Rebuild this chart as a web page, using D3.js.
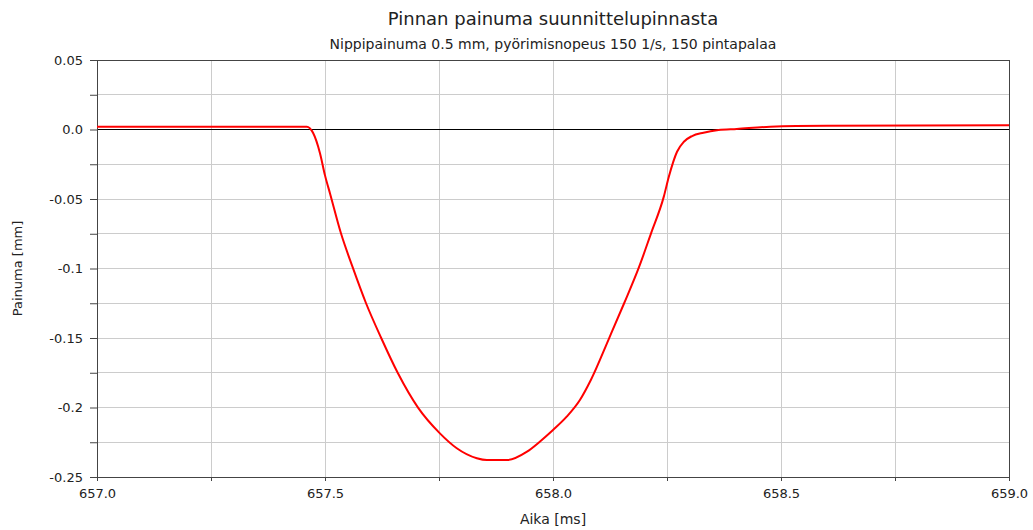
<!DOCTYPE html>
<html>
<head>
<meta charset="utf-8">
<script src="https://cdn.jsdelivr.net/npm/d3@7"></script>
<style>
  body { margin: 0; background: #fff; }
  text { font-family: "DejaVu Sans", sans-serif; fill: #222; }
</style>
</head>
<body>
<svg id="chart"></svg>
<script>
// data
const timeMs = [657.0, 657.46, 657.474, 657.489, 657.5, 657.511, 657.535, 657.561, 657.59, 657.623,
  657.66, 657.704, 657.752, 657.789, 657.833, 657.855, 657.899, 657.943, 657.971, 658.0,
  658.03, 658.059, 658.083, 658.123, 658.156, 658.189, 658.215, 658.243, 658.254, 658.272,
  658.287, 658.305, 658.33, 658.363, 658.403, 658.476, 658.6, 659.0];
const depthMm = [0.002, 0.002, -0.0025, -0.017, -0.033, -0.046, -0.0747, -0.0994, -0.125, -0.1498,
  -0.1754, -0.2001, -0.2186, -0.2293, -0.2365, -0.2378, -0.2378, -0.2318, -0.2246, -0.2162,
  -0.2066, -0.1946, -0.1802, -0.1502, -0.125, -0.0987, -0.0747, -0.0483, -0.034, -0.016,
  -0.0088, -0.0047, -0.0023, -0.0004, 0.0004, 0.002, 0.0027, 0.003];
const xTickLabels = ["657.0", "657.5", "658.0", "658.5", "659.0"];
const yTickLabels = ["0.05", "0.0", "-0.05", "-0.1", "-0.15", "-0.2", "-0.25"];
const yTickValues = [0.05, 0, -0.05, -0.1, -0.15, -0.2, -0.25];

const title = "Pinnan painuma suunnittelupinnasta";
const subtitle = "Nippipainuma 0.5 mm, pyörimisnopeus 150 1/s, 150 pintapalaa";

const width = 1033, height = 530;
const margin = { top: 60, right: 24, bottom: 53, left: 97 };

let svg = d3.select("#chart").attr("width", width).attr("height", height);

let x = d3.scaleLinear().domain([657, 659]).range([margin.left, width - margin.right]);
let y = d3.scaleLinear().domain([-0.25, 0.05]).range([height - margin.bottom, margin.top]);

let minorX = d3.range(0, 9).map(i => 657 + i * 0.25);
let minorY = d3.range(0, 13).map(i => -0.25 + i * 0.025);

// grid
svg.append("g").selectAll("line").data(minorX).enter().append("line")
  .attr("x1", d => x(d)).attr("x2", d => x(d))
  .attr("y1", y(0.05)).attr("y2", y(-0.25))
  .attr("stroke", "#cccccc").attr("stroke-width", 1).attr("shape-rendering", "crispEdges");
svg.append("g").selectAll("line").data(minorY).enter().append("line")
  .attr("x1", x(657)).attr("x2", x(659))
  .attr("y1", d => y(d)).attr("y2", d => y(d))
  .attr("stroke", "#cccccc").attr("stroke-width", 1).attr("shape-rendering", "crispEdges");

// zero line
svg.append("line")
  .attr("x1", x(657)).attr("x2", x(659))
  .attr("y1", y(0)).attr("y2", y(0))
  .attr("stroke", "#000").attr("shape-rendering", "crispEdges");

// frame
svg.append("rect")
  .attr("x", x(657)).attr("y", y(0.05))
  .attr("width", x(659) - x(657)).attr("height", y(-0.25) - y(0.05))
  .attr("fill", "none").attr("stroke", "#444").attr("shape-rendering", "crispEdges");

// axes
let yAxis = d3.axisLeft(y).tickValues(minorY).tickSize(7).tickFormat(d => {
  let i = yTickValues.findIndex(v => Math.abs(v - d) < 1e-9);
  return i >= 0 ? yTickLabels[i] : "";
});
let gy = svg.append("g").attr("transform", `translate(${x(657)},0)`).call(yAxis);
gy.select(".domain").attr("stroke", "#444");
gy.selectAll(".tick line").attr("stroke", "#444");
gy.selectAll(".tick text").style("font-size", "13px").attr("x", -14).attr("fill", "#222");

let xAxis = d3.axisBottom(x).tickValues(minorX).tickSize(4).tickFormat(d => {
  let i = Math.round((d - 657) / 0.5);
  return Math.abs((d - 657) / 0.5 - i) < 1e-9 ? xTickLabels[i] : "";
});
let gx = svg.append("g").attr("transform", `translate(0,${y(-0.25)})`).call(xAxis);
gx.select(".domain").attr("stroke", "#444");
gx.selectAll(".tick line").attr("stroke", "#444");
gx.selectAll(".tick text").style("font-size", "13px").attr("y", 12).attr("fill", "#222");

// curve
let line = d3.line().x((d, i) => x(timeMs[i])).y(d => y(d)).curve(d3.curveMonotoneX);
svg.append("path")
  .datum(depthMm)
  .attr("d", line)
  .attr("fill", "none")
  .attr("stroke", "#ff0000")
  .attr("stroke-width", 2);

// titles
let cx = (x(657) + x(659)) / 2;
svg.append("text").attr("x", cx).attr("y", 25).attr("text-anchor", "middle")
  .style("font-size", "18px").text(title);
svg.append("text").attr("x", cx).attr("y", 49).attr("text-anchor", "middle")
  .style("font-size", "14px").text(subtitle);
svg.append("text").attr("x", cx).attr("y", 524).attr("text-anchor", "middle")
  .style("font-size", "14px").text("Aika [ms]");
svg.append("text")
  .attr("transform", `translate(22,${(y(0.05) + y(-0.25)) / 2}) rotate(-90)`)
  .attr("text-anchor", "middle")
  .style("font-size", "13px").text("Painuma [mm]");
</script>
</body>
</html>
